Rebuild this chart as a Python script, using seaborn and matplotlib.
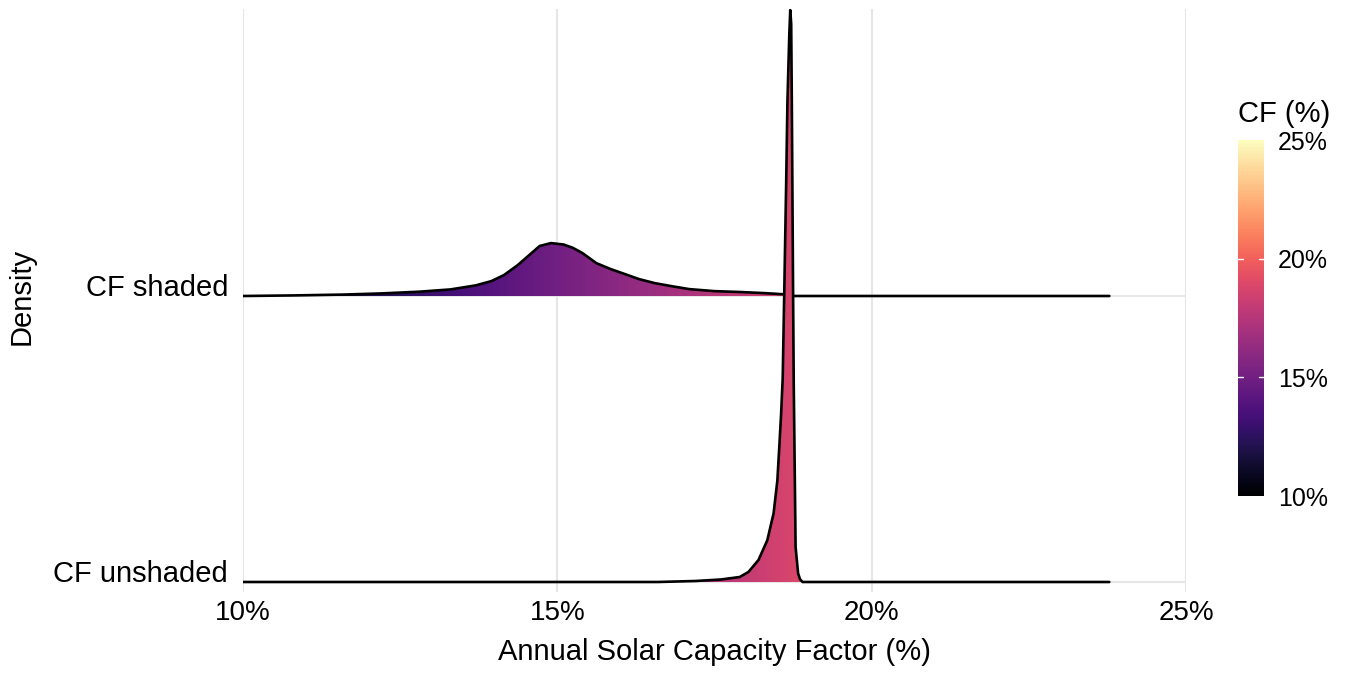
import numpy as np
import pandas as pd
import seaborn as sns
import matplotlib.pyplot as plt
from matplotlib.colors import Normalize
from matplotlib.cm import ScalarMappable

# ridge rows, bottom to top
ridge_names = ["CF unshaded", "CF shaded"]

# density curves (height in ridge-spacing units)
unshaded_cf = [10.0, 16.6, 17.2, 17.6, 17.9, 18.04, 18.2, 18.34, 18.44, 18.5,
               18.53, 18.56, 18.585, 18.61, 18.64, 18.66, 18.69, 18.705, 18.72, 18.73,
               18.75, 18.76, 18.79, 18.83, 18.86, 18.9, 23.78]
unshaded_height = [0, 0, 0.0035, 0.0087, 0.0174, 0.035, 0.077, 0.146, 0.24, 0.355,
                   0.47, 0.589, 0.714, 1.017, 1.394, 1.679, 1.916, 2.0, 1.951, 1.679,
                   1.017, 0.704, 0.122, 0.03, 0.01, 0, 0]

shaded_cf = [10.0, 10.8, 11.6, 12.2, 12.8, 13.3, 13.7, 13.95, 14.15, 14.37,
             14.6, 14.72, 14.9, 15.1, 15.25, 15.4, 15.62, 15.85, 16.07, 16.3,
             16.55, 16.8, 17.1, 17.5, 17.9, 18.3, 18.6, 18.72, 23.78]
shaded_height = [0, 0.002, 0.005, 0.009, 0.015, 0.023, 0.037, 0.052, 0.073, 0.108,
                 0.152, 0.175, 0.185, 0.18, 0.168, 0.15, 0.115, 0.094, 0.077, 0.059,
                 0.045, 0.035, 0.024, 0.017, 0.014, 0.01, 0.006, 0, 0]

x_ticks = [10, 15, 20, 25]
cbar_ticks = [10, 15, 20, 25]

sns.set_theme(style="whitegrid")
plt.rcParams['font.family'] = ['Liberation Sans', 'DejaVu Sans']
plt.rcParams['text.color'] = 'black'
plt.rcParams['axes.labelcolor'] = 'black'

W, H = 1349, 677
fig = plt.figure(figsize=(W / 100, H / 100), dpi=100)
ax = fig.add_axes([243 / W, 85 / H, 943 / W, 583 / H])

norm = Normalize(10, 25)
grad = np.linspace(10, 25, 600).reshape(1, -1)

ridges = [(unshaded_cf, unshaded_height), (shaded_cf, shaded_height)]
# draw top ridge first so the lower one sits on top
for i in [1, 0]:
    cf, h = ridges[i]
    df = pd.DataFrame({"cf": cf, "y": i + np.array(h)})
    poly = ax.fill_between(df.cf, i, df.y, facecolor="none", edgecolor="none")
    z = 2 + (1 - i) * 2
    im = ax.imshow(grad, extent=(10, 25, i, i + max(h) + 0.02), cmap="magma",
                   norm=norm, aspect="auto", origin="lower", zorder=z,
                   interpolation="bilinear")
    im.set_clip_path(poly.get_paths()[0], transform=ax.transData)
    sns.lineplot(data=df, x="cf", y="y", color="black", lw=1.9, sort=False,
                 ax=ax, zorder=z + 1, solid_joinstyle="round")

ax.set_xlim(10, 25)
ax.set_ylim(-0.035, 2.0035)
ax.set_xticks(x_ticks)
ax.set_xticklabels([f"{t}%" for t in x_ticks])
ax.set_yticks([0, 1])
ax.set_yticklabels(ridge_names, va="baseline")
ax.grid(True, color="#e6e6e6", lw=1.5)
ax.set_axisbelow(True)
for s in ax.spines.values():
    s.set_visible(False)
ax.tick_params(axis="x", length=0, pad=5.8, labelsize=20, labelcolor="black")
ax.tick_params(axis="y", length=5.8, width=1.4, color="#e6e6e6", pad=5,
               labelsize=21, labelcolor="black")

ax.set_xlabel("Annual Solar Capacity Factor (%)", fontsize=21, color="black")
ax.xaxis.set_label_coords(0.5, -0.079)
ax.set_ylabel("Density", fontsize=21, color="black")
ax.yaxis.set_label_coords(-0.2195, 0.507)

# colour bar
cax = fig.add_axes([1238 / W, 181 / H, 26 / W, 356 / H])
sm = ScalarMappable(norm=norm, cmap="magma")
cb = fig.colorbar(sm, cax=cax, ticks=cbar_ticks)
cb.outline.set_visible(False)
cb.set_ticklabels([f"{t}%" for t in cbar_ticks])
cax.grid(False)
cax.tick_params(axis="y", length=0, labelsize=18, pad=10, labelcolor="black")
for t in cbar_ticks[1:-1]:
    cax.axhline(t, 0, 0.2, color="white", lw=1, zorder=5)
    cax.axhline(t, 0.8, 1, color="white", lw=1, zorder=5)
fig.text(1238 / W, 1 - 122 / H, "CF (%)", fontsize=21, ha="left", va="baseline")

fig.savefig("out.png", dpi=100)
